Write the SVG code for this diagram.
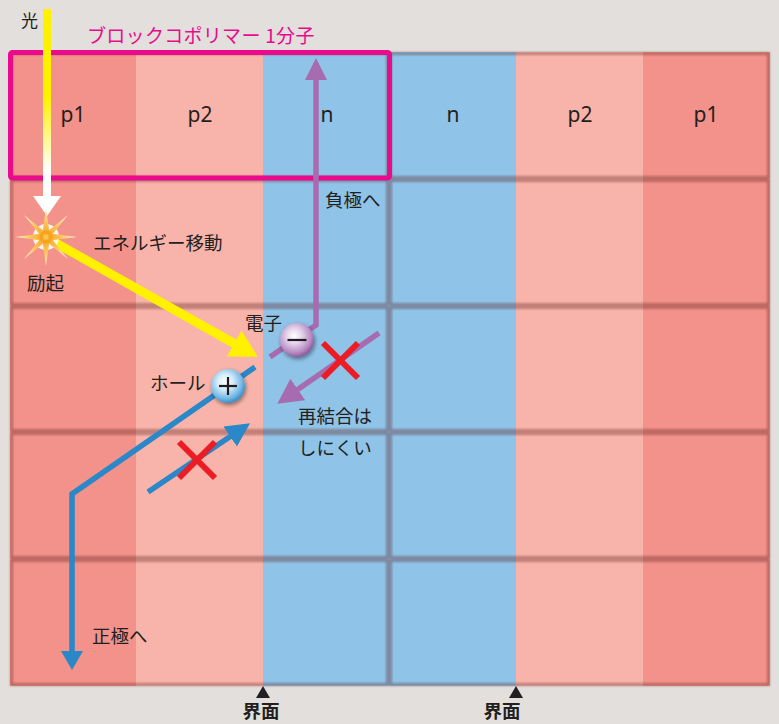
<svg xmlns="http://www.w3.org/2000/svg" width="779" height="724" viewBox="0 0 779 724">
  <style>
    .t { font-family: "Noto Sans CJK JP", "Noto Sans", sans-serif; fill: #231f20; font-size: 18.5px; }
    .lbl { font-family: "Noto Sans", "Noto Sans CJK JP", sans-serif; fill: #231f20; font-size: 21px; text-anchor: middle; }
    .p1 { fill: #f3928a; }
    .p2 { fill: #f8b4aa; }
    .n { fill: #8fc3e8; }
    .edge { fill: none; stroke: #5a2626; stroke-opacity: 0.42; stroke-width: 2.6; filter: url(#soft); }
    .yel { fill: none; stroke: #fff100; stroke-width: 9; }
    .pur { fill: none; stroke: #a76cb0; stroke-width: 5.5; stroke-linejoin: miter; }
    .blu { fill: none; stroke: #2a87c8; stroke-width: 5.5; stroke-linejoin: miter; }
    .red { stroke: #ec1c24; stroke-width: 6; }
  </style>
  <defs>
    <filter id="soft" x="-5%" y="-5%" width="110%" height="110%">
      <feGaussianBlur stdDeviation="1.1"/>
    </filter>
    <filter id="ballShadow" x="-50%" y="-50%" width="200%" height="200%">
      <feGaussianBlur in="SourceAlpha" stdDeviation="2"/>
      <feOffset dx="1" dy="2" result="b"/>
      <feComponentTransfer><feFuncA type="linear" slope="0.45"/></feComponentTransfer>
      <feMerge><feMergeNode/><feMergeNode in="SourceGraphic"/></feMerge>
    </filter>
    <linearGradient id="lightBeam" x1="0" y1="9" x2="0" y2="185" gradientUnits="userSpaceOnUse">
      <stop offset="0" stop-color="#fff100"/>
      <stop offset="0.5" stop-color="#fff100"/>
      <stop offset="0.92" stop-color="#ffffff"/>
      <stop offset="1" stop-color="#ffffff"/>
    </linearGradient>
    <radialGradient id="electronBall" cx="0.42" cy="0.38" r="0.62">
      <stop offset="0" stop-color="#ffffff"/>
      <stop offset="0.35" stop-color="#e6d6ec"/>
      <stop offset="0.8" stop-color="#b58ac2"/>
      <stop offset="1" stop-color="#8e5c9e"/>
    </radialGradient>
    <radialGradient id="holeBall" cx="0.42" cy="0.38" r="0.62">
      <stop offset="0" stop-color="#ffffff"/>
      <stop offset="0.35" stop-color="#d8eefa"/>
      <stop offset="0.8" stop-color="#72b6e3"/>
      <stop offset="1" stop-color="#3a8fcb"/>
    </radialGradient>
    <radialGradient id="ray" cx="46" cy="237" r="30" gradientUnits="userSpaceOnUse">
      <stop offset="0" stop-color="#f7a41a"/>
      <stop offset="0.5" stop-color="#fbc45a"/>
      <stop offset="1" stop-color="#fff1cf"/>
    </radialGradient>
    <marker id="headYellow" markerUnits="userSpaceOnUse" markerWidth="27" markerHeight="30" viewBox="0 0 27 30" refX="1" refY="15" orient="auto">
      <path d="M0,0 L27,15 L0,30 Z" fill="#fff100"/>
    </marker>
    <marker id="headPurple" markerUnits="userSpaceOnUse" markerWidth="22" markerHeight="22" viewBox="0 0 22 22" refX="1" refY="11" orient="auto">
      <path d="M0,0 L22,11 L0,22 Z" fill="#a76cb0"/>
    </marker>
    <marker id="headPurpleDiag" markerUnits="userSpaceOnUse" markerWidth="25" markerHeight="26" viewBox="0 0 25 26" refX="1" refY="13" orient="auto">
      <path d="M0,0 L25,13 L0,26 Z" fill="#a76cb0"/>
    </marker>
    <marker id="headBlue" markerUnits="userSpaceOnUse" markerWidth="19" markerHeight="22" viewBox="0 0 19 22" refX="1" refY="11" orient="auto">
      <path d="M0,0 L19,11 L0,22 Z" fill="#2a87c8"/>
    </marker>
    <marker id="headBlueDiag" markerUnits="userSpaceOnUse" markerWidth="24" markerHeight="24" viewBox="0 0 24 24" refX="1" refY="12" orient="auto">
      <path d="M0,0 L24,12 L0,24 Z" fill="#2a87c8"/>
    </marker>
  </defs>

  <!-- page -->
  <rect width="779" height="724" fill="#e2dfdc"/>

  <!-- columns of the layered film -->
  <g id="layers">
    <rect class="p1" x="10" y="52" width="126" height="634"/>
    <rect class="p2" x="136" y="52" width="127" height="634"/>
    <rect class="n" x="263" y="52" width="126" height="634"/>
    <rect class="n" x="389" y="52" width="127" height="634"/>
    <rect class="p2" x="516" y="52" width="127" height="634"/>
    <rect class="p1" x="643" y="52" width="127" height="634"/>
  </g>

  <!-- one tile per half molecule -->
  <g id="molecule-1-left"><rect class="edge" x="11.5" y="53.5" width="376" height="124"/></g>
  <g id="molecule-1-right"><rect class="edge" x="390.5" y="53.5" width="378" height="124"/></g>
  <g id="molecule-2-left"><rect class="edge" x="11.5" y="180.5" width="376" height="124"/></g>
  <g id="molecule-2-right"><rect class="edge" x="390.5" y="180.5" width="378" height="124"/></g>
  <g id="molecule-3-left"><rect class="edge" x="11.5" y="307.5" width="376" height="123"/></g>
  <g id="molecule-3-right"><rect class="edge" x="390.5" y="307.5" width="378" height="123"/></g>
  <g id="molecule-4-left"><rect class="edge" x="11.5" y="433.5" width="376" height="124"/></g>
  <g id="molecule-4-right"><rect class="edge" x="390.5" y="433.5" width="378" height="124"/></g>
  <g id="molecule-5-left"><rect class="edge" x="11.5" y="560.5" width="376" height="124"/></g>
  <g id="molecule-5-right"><rect class="edge" x="390.5" y="560.5" width="378" height="124"/></g>

  <!-- segment labels -->
  <g id="segment-labels">
    <text class="lbl" x="73" y="122">p1</text>
    <text class="lbl" x="200" y="122">p2</text>
    <text class="lbl" x="327" y="122">n</text>
    <text class="lbl" x="453" y="122">n</text>
    <text class="lbl" x="580" y="122">p2</text>
    <text class="lbl" x="706" y="122">p1</text>
  </g>

  <!-- one block copolymer molecule -->
  <g id="molecule-frame">
    <rect x="10.5" y="52.5" width="379" height="125.5" rx="2" fill="none" stroke="#ea0a8c" stroke-width="5"/>
    <text class="t" x="87" y="43" style="fill:#ea0a8c;font-size:19px;letter-spacing:0.3px">ブロックコポリマー 1分子</text>
  </g>

  <!-- connectors -->
  <g id="connectors">
    <!-- incoming light -->
    <rect x="43" y="9" width="8" height="188" fill="url(#lightBeam)"/>
    <polygon points="33,196 61,196 47,216" fill="#ffffff"/>
    <!-- energy transfer -->
    <line class="yel" x1="47" y1="238" x2="235" y2="344" marker-end="url(#headYellow)"/>
    <!-- electron to anode side -->
    <polyline class="pur" points="270,357 316,325 316,79" marker-end="url(#headPurple)"/>
    <!-- hole to cathode side -->
    <polyline class="blu" points="255,367 72,494 72,652" marker-end="url(#headBlue)"/>
    <!-- suppressed recombination paths -->
    <line class="pur" x1="379" y1="333" x2="297" y2="390" marker-end="url(#headPurpleDiag)"/>
    <line class="blu" x1="148" y1="492" x2="231" y2="436" marker-end="url(#headBlueDiag)"/>
    <line class="red" x1="323" y1="343" x2="358" y2="378"/>
    <line class="red" x1="323" y1="378" x2="358" y2="343"/>
    <line class="red" x1="179" y1="442" x2="215" y2="478"/>
    <line class="red" x1="179" y1="478" x2="215" y2="442"/>
  </g>

  <!-- excitation spark -->
  <g id="excitation">
    <circle cx="46" cy="237" r="13" fill="#ffffff" opacity="0.9"/>
    <g fill="url(#ray)">
      <polygon points="15,237 42,233.5 46,237 42,240.5"/>
      <polygon points="77,237 50,240.5 46,237 50,233.5"/>
      <polygon points="46,208 49.5,233 46,237 42.5,233"/>
      <polygon points="46,266 42.5,241 46,237 49.5,241"/>
      <polygon points="24,215 44.5,231.5 46,237 40.5,235.5"/>
      <polygon points="68,259 47.5,242.5 46,237 51.5,238.5"/>
      <polygon points="68,215 51.5,235.5 46,237 47.5,231.5"/>
      <polygon points="24,259 40.5,238.5 46,237 44.5,242.5"/>
    </g>
    <circle cx="46" cy="237" r="6.5" fill="#f7a41a"/>
    <rect x="43.5" y="234.5" width="5" height="5" fill="#fbc45a"/>
  </g>

  <!-- carriers -->
  <g id="electron" filter="url(#ballShadow)">
    <circle cx="297" cy="340" r="17" fill="url(#electronBall)"/>
    <rect x="287.5" y="338.9" width="19" height="2.2" fill="#231f20"/>
  </g>
  <g id="hole" filter="url(#ballShadow)">
    <circle cx="228" cy="386" r="17" fill="url(#holeBall)"/>
    <rect x="219" y="384.9" width="18" height="2.2" fill="#231f20"/>
    <rect x="226.9" y="377" width="2.2" height="18" fill="#231f20"/>
  </g>

  <!-- annotations -->
  <g id="annotations">
    <text class="t" x="21" y="27" style="font-size:17px">光</text>
    <text class="t" x="93" y="250">エネルギー移動</text>
    <text class="t" x="27" y="290">励起</text>
    <text class="t" x="325" y="207">負極へ</text>
    <text class="t" x="245" y="330">電子</text>
    <text class="t" x="150" y="390">ホール</text>
    <text class="t" x="298" y="423">再結合は</text>
    <text class="t" x="298" y="455">しにくい</text>
    <text class="t" x="92" y="643">正極へ</text>
  </g>

  <!-- interface markers -->
  <g id="interface-left">
    <polygon points="263,686 270,698 256,698" fill="#231f20"/>
    <text class="t" x="261" y="718" style="font-size:18.5px;font-weight:bold;text-anchor:middle">界面</text>
  </g>
  <g id="interface-right">
    <polygon points="516,686 523,698 509,698" fill="#231f20"/>
    <text class="t" x="502" y="718" style="font-size:18.5px;font-weight:bold;text-anchor:middle">界面</text>
  </g>
</svg>
